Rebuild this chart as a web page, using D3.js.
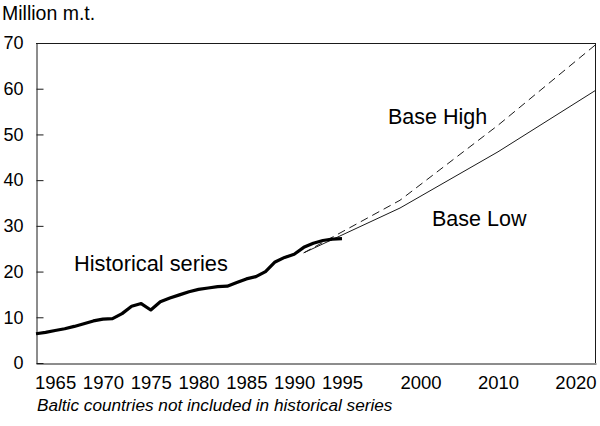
<!DOCTYPE html>
<html>
<head>
<meta charset="utf-8">
<script src="https://cdn.jsdelivr.net/npm/d3@7"></script>
<style>
  html, body { margin: 0; padding: 0; background: #fff; }
  svg { display: block; font-family: "Liberation Sans", Arial, Helvetica, sans-serif; }
</style>
</head>
<body>
<svg id="chart" width="600" height="426"></svg>
<script>
// ---- data ----
const histYears = [1963,1964,1965,1966,1967,1968,1969,1970,1971,1972,1973,1974,1975,1976,1977,1978,1979,
                   1980,1981,1982,1983,1984,1985,1986,1987,1988,1989,1990,1991,1992,1993,1994,1995];
const histValues = [6.4,6.7,7.1,7.5,8.0,8.6,9.2,9.6,9.7,10.8,12.4,13.0,11.6,13.4,14.2,14.9,15.6,
                    16.1,16.4,16.7,16.8,17.6,18.4,18.9,20.0,22.1,23.1,23.8,25.3,26.2,26.8,27.1,27.2];
const projYears = [1991, 2000, 2010, 2020];
const baseHigh = [24.1, 35.6, 52.0, 69.7];
const baseLow  = [24.1, 33.9, 46.2, 59.7];
const xTickValues = [1965,1970,1975,1980,1985,1990,1995,2000,2010,2020];
const yTickValues = [0,10,20,30,40,50,60,70];

// ---- layout ----
const mLeft = 36, mRight = 596, mTop = 43, mBottom = 363;
const svg = d3.select("#chart");

// piecewise time axis as in the original (compressed historical period)
const x = d3.scaleLinear()
  .domain([1963, 1995, 2000, 2020])
  .range([mLeft, 342, 400, mRight]);
const y = d3.scaleLinear().domain([0, 70]).range([mBottom, mTop]);

const ink = "#1a1a1a";

// frame: top and right
svg.append("line").attr("x1", mLeft).attr("x2", mRight).attr("y1", mTop + 0.5).attr("y2", mTop + 0.5)
  .attr("stroke", ink).attr("stroke-width", 1);
svg.append("line").attr("x1", mRight - 0.5).attr("x2", mRight - 0.5).attr("y1", mTop).attr("y2", mBottom)
  .attr("stroke", ink).attr("stroke-width", 1);

// y axis (ticks pointing inward)
const yAxis = svg.append("g").attr("transform", `translate(${mLeft + 0.5},0)`)
  .call(d3.axisLeft(y).tickValues(yTickValues).tickSizeInner(-7).tickSizeOuter(0).tickPadding(13));
yAxis.select(".domain").attr("stroke", ink);
yAxis.selectAll(".tick line").attr("stroke", ink);
yAxis.selectAll("text").attr("font-size", 18).attr("fill", "#000")
  .attr("font-family", "'Liberation Sans', Arial, sans-serif");

// x axis
const xAxis = svg.append("g").attr("transform", `translate(0,${mBottom + 0.5})`)
  .call(d3.axisBottom(x).tickValues(xTickValues).tickFormat(d3.format("d")).tickSize(0).tickPadding(12));
xAxis.select(".domain").attr("stroke", ink);
xAxis.selectAll("text").attr("font-size", 18.5).attr("fill", "#000")
  .attr("font-family", "'Liberation Sans', Arial, sans-serif")
  .attr("text-anchor", d => d === 2000 ? "start" : (d === 2020 ? "end" : "middle"));

// lines
const lineGen = (xs) => d3.line().x((d, i) => x(xs[i])).y(d => y(d));

svg.append("path").datum(baseLow)
  .attr("d", lineGen(projYears))
  .attr("fill", "none").attr("stroke", ink).attr("stroke-width", 1);
svg.append("path").datum(baseHigh)
  .attr("d", lineGen(projYears))
  .attr("fill", "none").attr("stroke", ink).attr("stroke-width", 1)
  .attr("stroke-dasharray", "8,5");
svg.append("path").datum(histValues)
  .attr("d", lineGen(histYears))
  .attr("fill", "none").attr("stroke", "#000").attr("stroke-width", 3.2)
  .attr("stroke-linejoin", "round");

// texts
svg.append("text").attr("x", 2).attr("y", 20).attr("font-size", 19.5).text("Million m.t.");
svg.append("text").attr("x", 74).attr("y", 271).attr("font-size", 21.8).text("Historical series");
svg.append("text").attr("x", 388).attr("y", 124).attr("font-size", 21.5).text("Base High");
svg.append("text").attr("x", 432).attr("y", 226).attr("font-size", 21.5).text("Base Low");
svg.append("text").attr("x", 37).attr("y", 411).attr("font-size", 17.2).attr("font-style", "italic")
  .text("Baltic countries not included in historical series");
</script>
</body>
</html>
